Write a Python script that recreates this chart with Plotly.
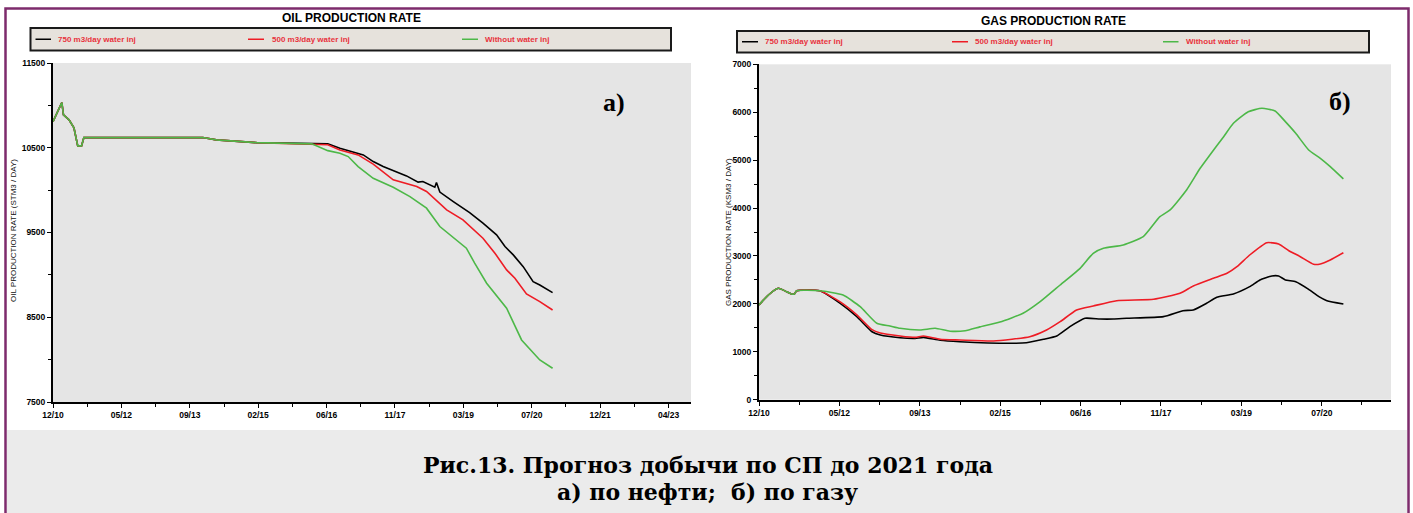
import plotly.graph_objects as go
from datetime import date, timedelta

W, H = 1413, 513

# ---------------- DATA ----------------
oil_black_dates = ["2010-12-10", "2011-02-13", "2011-02-25", "2011-04-07", "2011-05-13", "2011-06-10",
                   "2011-07-08", "2011-07-25", "2013-12-16", "2014-03-25", "2015-01-15", "2016-02-25",
                   "2016-06-22", "2016-09-19", "2016-11-30", "2017-03-10", "2017-05-22", "2017-08-03",
                   "2018-01-22", "2018-04-17", "2018-05-22", "2018-08-18", "2018-08-30", "2018-09-24",
                   "2019-01-01", "2019-05-01", "2019-08-07", "2019-11-15", "2020-01-16", "2020-03-17",
                   "2020-05-29", "2020-08-10", "2020-09-28", "2020-12-31"]
oil_black = [10809, 11034, 10888, 10829, 10735, 10522, 10522, 10620, 10620, 10593, 10560, 10546,
             10546, 10495, 10463, 10416, 10337, 10278, 10168, 10094, 10101, 10034, 10089, 9977,
             9865, 9735, 9610, 9472, 9334, 9236, 9097, 8920, 8881, 8790]

oil_red_dates = ["2010-12-10", "2011-02-13", "2011-02-25", "2011-04-07", "2011-05-13", "2011-06-10",
                 "2011-07-08", "2011-07-25", "2013-12-16", "2014-03-25", "2015-01-15", "2016-02-25",
                 "2016-06-22", "2016-09-19", "2016-11-30", "2017-01-31", "2017-05-22", "2017-10-16",
                 "2018-04-07", "2018-06-18", "2018-11-13", "2019-03-13", "2019-08-07", "2019-11-03",
                 "2020-01-28", "2020-03-29", "2020-06-22", "2020-09-28", "2020-12-31"]
oil_red = [10809, 11034, 10888, 10829, 10735, 10522, 10522, 10620, 10620, 10593, 10560, 10546,
           10535, 10474, 10440, 10416, 10306, 10121, 10043, 9984, 9767, 9649, 9433, 9256,
           9059, 8961, 8775, 8684, 8586]

oil_green_dates = ["2010-12-10", "2011-02-13", "2011-02-25", "2011-04-07", "2011-05-13", "2011-06-10",
                   "2011-07-08", "2011-07-25", "2013-12-16", "2014-03-25", "2015-01-15", "2016-02-25",
                   "2016-06-22", "2016-09-19", "2016-11-19", "2017-01-31", "2017-05-22", "2017-10-16",
                   "2018-02-16", "2018-06-18", "2018-09-24", "2018-12-07", "2019-04-07", "2019-06-07",
                   "2019-09-03", "2020-01-28", "2020-05-17", "2020-09-28", "2020-12-31"]
oil_green = [10809, 11034, 10888, 10829, 10735, 10522, 10522, 10620, 10620, 10593, 10560, 10546,
             10466, 10436, 10396, 10278, 10140, 10034, 9924, 9787, 9570, 9472, 9315, 9138,
             8902, 8607, 8232, 7996, 7898]

gas_black_dates = ["2010-12-10", "2011-02-07", "2011-04-10", "2011-06-01", "2011-07-01", "2011-07-19",
                   "2011-08-03", "2011-12-25", "2012-05-01", "2012-08-13", "2012-11-16", "2013-01-07",
                   "2013-05-10", "2013-08-13", "2013-10-04", "2014-01-16", "2014-05-19", "2015-03-28",
                   "2015-07-10", "2015-10-25", "2016-01-16", "2016-04-07", "2016-07-10", "2016-10-13",
                   "2017-01-04", "2017-03-28", "2017-11-13", "2018-03-16", "2018-05-19", "2018-08-10",
                   "2018-10-13", "2019-01-25", "2019-05-07", "2019-07-10", "2019-09-22", "2019-11-04",
                   "2019-12-16", "2020-02-19", "2020-05-10", "2020-07-13", "2020-09-01", "2020-12-13"]
gas_black = [1977, 2185, 2325, 2254, 2206, 2206, 2275, 2275, 2012, 1733, 1419, 1350,
             1294, 1280, 1300, 1240, 1211, 1177, 1190, 1261, 1330, 1524, 1699, 1684,
             1684, 1699, 1733, 1858, 1872, 2012, 2137, 2206, 2359, 2499, 2582, 2582,
             2499, 2463, 2304, 2150, 2066, 1997]

gas_red_dates = ["2010-12-10", "2011-02-07", "2011-04-10", "2011-06-01", "2011-07-01", "2011-07-19",
                 "2011-08-03", "2011-12-25", "2012-05-01", "2012-08-13", "2012-11-16", "2013-01-07",
                 "2013-05-10", "2013-08-13", "2013-10-04", "2014-01-16", "2014-05-19", "2014-12-16",
                 "2015-07-31", "2015-11-13", "2016-02-06", "2016-05-19", "2016-08-31", "2017-01-25",
                 "2017-09-13", "2018-02-25", "2018-05-19", "2018-09-22", "2018-12-16", "2019-02-16",
                 "2019-05-07", "2019-08-22", "2019-11-04", "2020-01-07", "2020-03-19", "2020-06-10",
                 "2020-07-22", "2020-09-22", "2020-12-13"]
gas_red = [1977, 2185, 2325, 2254, 2206, 2206, 2275, 2275, 2040, 1770, 1461, 1392,
           1330, 1300, 1330, 1260, 1246, 1225, 1315, 1455, 1628, 1872, 1956, 2066,
           2096, 2221, 2373, 2534, 2638, 2776, 3020, 3277, 3250, 3110, 2985, 2826,
           2832, 2916, 3068]

gas_green_dates = ["2010-12-10", "2011-02-07", "2011-04-10", "2011-06-01", "2011-07-01", "2011-07-19",
                   "2011-08-03", "2011-12-25", "2012-05-19", "2012-09-03", "2012-12-16", "2013-03-08",
                   "2013-05-10", "2013-09-13", "2013-12-16", "2014-03-19", "2014-06-22", "2014-09-22",
                   "2015-01-25", "2015-06-19", "2015-10-04", "2016-02-06", "2016-06-10", "2016-08-31",
                   "2016-11-03", "2017-03-07", "2017-07-10", "2017-10-22", "2017-12-25", "2018-04-07",
                   "2018-07-01", "2018-08-31", "2018-11-25", "2019-01-25", "2019-04-28", "2019-07-22",
                   "2019-10-13", "2019-12-16", "2020-02-19", "2020-05-10", "2020-07-22", "2020-09-22",
                   "2020-12-13"]
gas_green = [1977, 2185, 2325, 2254, 2206, 2206, 2275, 2275, 2185, 1941, 1595, 1538,
             1490, 1455, 1490, 1430, 1440, 1520, 1620, 1803, 2046, 2394, 2742, 3056,
             3160, 3229, 3402, 3820, 3960, 4377, 4830, 5108, 5490, 5769, 6011, 6082,
             6026, 5803, 5560, 5212, 5039, 4865, 4608]

series_names = ["750 m3/day water inj", "500 m3/day water inj", "Without water inj"]
series_colors = ["#000000", "#EE1C25", "#4DB848"]

oil_xlabels = ["12/10", "05/12", "09/13", "02/15", "06/16", "11/17", "03/19", "07/20", "12/21", "04/23"]
gas_xlabels = ["12/10", "05/12", "09/13", "02/15", "06/16", "11/17", "03/19", "07/20"]
oil_yticks = [7500, 8500, 9500, 10500, 11500]
oil_yminor = [8000, 9000, 10000, 11000]
gas_yticks = [0, 1000, 2000, 3000, 4000, 5000, 6000, 7000]
gas_yminor = [500, 1500, 2500, 3500, 4500, 5500, 6500]

# ---------------- helpers ----------------
START = date(2010, 12, 10)
STEP = 503  # days between labelled ticks


def d(k):
    return (START + timedelta(days=round(STEP * k))).isoformat()


def px(x):
    return x / W


def py(y):
    return 1 - y / H


fig = go.Figure()

oil_sets = [(oil_black_dates, oil_black), (oil_red_dates, oil_red), (oil_green_dates, oil_green)]
gas_sets = [(gas_black_dates, gas_black), (gas_red_dates, gas_red), (gas_green_dates, gas_green)]
for (xs, ys), name, col in zip(oil_sets, series_names, series_colors):
    fig.add_trace(go.Scatter(x=xs, y=ys, mode="lines", name=name, showlegend=False,
                             line=dict(color=col, width=1.6), xaxis="x", yaxis="y"))
for (xs, ys), name, col in zip(gas_sets, series_names, series_colors):
    fig.add_trace(go.Scatter(x=xs, y=ys, mode="lines", name=name, showlegend=False,
                             line=dict(color=col, width=1.6, shape="spline", smoothing=0.5),
                             xaxis="x2", yaxis="y2"))

tickfont = dict(family="Liberation Sans", size=8.5, color="black", weight="bold")

common_x = dict(type="date", showgrid=False, zeroline=False, showline=True, linecolor="black",
                linewidth=2, ticks="outside", ticklen=4, tickwidth=1, tickcolor="black",
                tickfont=tickfont, tickangle=0, automargin=False)
common_y = dict(showgrid=False, zeroline=False, showline=True, linecolor="black", linewidth=2,
                ticks="outside", ticklen=4, tickwidth=1, tickcolor="black", tickfont=tickfont,
                automargin=False)

oil_span = 638 / 68.4
gas_span = 632 / 80.4

fig.update_layout(
    width=W, height=H, margin=dict(l=0, r=0, t=0, b=0, pad=0, autoexpand=False),
    paper_bgcolor="white", plot_bgcolor="#E5E5E5", showlegend=False,
    xaxis=dict(common_x, domain=[px(53), px(691)], anchor="y",
               range=[d(0), d(oil_span)],
               tickmode="array", tickvals=[d(k) for k in range(len(oil_xlabels))], ticktext=oil_xlabels,
               minor=dict(tickmode="array", tickvals=[d(k + 0.5) for k in range(len(oil_xlabels))],
                          ticks="outside", ticklen=3, tickcolor="black", showgrid=False)),
    yaxis=dict(common_y, domain=[py(402), py(63)], anchor="x", range=[7500, 11500],
               tickmode="array", tickvals=oil_yticks, ticktext=[str(v) for v in oil_yticks],
               minor=dict(tickmode="array", tickvals=oil_yminor, ticks="outside", ticklen=3,
                          tickcolor="black", showgrid=False)),
    xaxis2=dict(common_x, domain=[px(759), px(1391)], anchor="y2",
                range=[d(0), d(gas_span)],
                tickmode="array", tickvals=[d(k) for k in range(len(gas_xlabels))], ticktext=gas_xlabels,
                minor=dict(tickmode="array", tickvals=[d(k + 0.5) for k in range(len(gas_xlabels))],
                           ticks="outside", ticklen=3, tickcolor="black", showgrid=False)),
    yaxis2=dict(common_y, domain=[py(399.7), py(64.3)], anchor="x2", range=[0, 7000],
                tickmode="array", tickvals=gas_yticks, ticktext=[str(v) for v in gas_yticks],
                minor=dict(tickmode="array", tickvals=gas_yminor, ticks="outside", ticklen=3,
                           tickcolor="black", showgrid=False)),
)

shapes = []
annotations = []

# outer frame and caption band
shapes.append(dict(type="rect", xref="paper", yref="paper", x0=px(7), x1=px(1407), y0=py(513), y1=py(430),
                   fillcolor="#EBEBEB", line=dict(width=0), layer="below"))
shapes.append(dict(type="rect", xref="paper", yref="paper", x0=px(5.5), x1=px(1408.5), y0=py(525), y1=py(8.5),
                   fillcolor="rgba(0,0,0,0)", line=dict(color="#7D2B6C", width=2.5), layer="above"))


def title(text, x, y):
    annotations.append(dict(text=text, xref="paper", yref="paper", x=px(x), y=py(y), showarrow=False,
                            xanchor="center", yanchor="middle",
                            font=dict(family="Liberation Sans", size=12, color="black", weight="bold")))


title("OIL PRODUCTION RATE", 351, 17.8)
title("GAS PRODUCTION RATE", 1053, 21)


def legend_box(x0, x1, y0, y1, lines, texts):
    shapes.append(dict(type="rect", xref="paper", yref="paper", x0=px(x0), x1=px(x1), y0=py(y1), y1=py(y0),
                       fillcolor="#E6E2DC", line=dict(color="#1a1a1a", width=2)))
    yc = (y0 + y1) / 2
    for (lx0, lx1), tx, name, col in zip(lines, texts, series_names, series_colors):
        shapes.append(dict(type="line", xref="paper", yref="paper", x0=px(lx0), x1=px(lx1), y0=py(yc), y1=py(yc),
                           line=dict(color=col, width=1.5)))
        annotations.append(dict(text=name, xref="paper", yref="paper", x=px(tx), y=py(yc), showarrow=False,
                                xanchor="left", yanchor="middle",
                                font=dict(family="Liberation Sans", size=8, color="#E8333C", weight="bold")))


legend_box(30.5, 671, 28, 50.5, [(35.5, 51), (248, 264), (462, 478)], [56, 269.5, 483])
legend_box(737, 1369, 31, 52.5, [(742, 758), (952, 968), (1163, 1178.5)], [763, 973, 1184])


def ytitle(text, x, y):
    annotations.append(dict(text=text, xref="paper", yref="paper", x=px(x), y=py(y), showarrow=False,
                            textangle=-90, xanchor="center", yanchor="middle",
                            font=dict(family="Liberation Sans", size=8, color="#111111")))


ytitle("OIL PRODUCTION RATE (STM3 / DAY)", 14, 231)
ytitle("GAS PRODUCTION RATE (KSM3 / DAY)", 728, 232)


def panel_label(text, x, y):
    annotations.append(dict(text=text, xref="paper", yref="paper", x=px(x), y=py(y), showarrow=False,
                            xanchor="center", yanchor="middle",
                            font=dict(family="Liberation Serif", size=26, color="black", weight="bold")))


panel_label("a)", 614, 102)
panel_label("б)", 1340, 101)


def caption(text, y):
    annotations.append(dict(text=text, xref="paper", yref="paper", x=px(707.5), y=py(y), showarrow=False,
                            xanchor="center", yanchor="middle",
                            font=dict(family="DejaVu Serif", size=22, color="black", weight="bold")))


caption("Рис.13. Прогноз добычи по СП до 2021 года", 465)
caption("а) по нефти;\u00a0 б) по газу", 492)

fig.update_layout(shapes=shapes, annotations=annotations)
fig.write_html("out.html")
